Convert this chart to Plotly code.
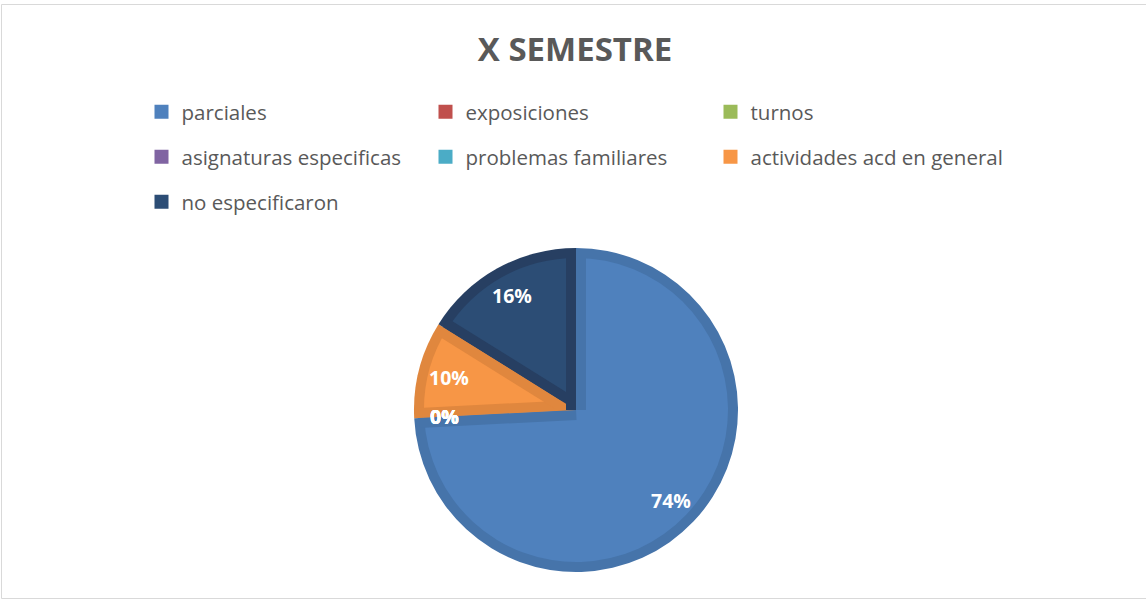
import math
import plotly.graph_objects as go

# data
categorias = ["parciales", "exposiciones", "turnos", "asignaturas especificas",
              "problemas familiares", "actividades acd en general", "no especificaron"]
valores = [23, 0, 0, 0, 0, 3, 5]
colores = ["#4F81BD", "#C0504D", "#9BBB59", "#8064A2", "#4BACC6", "#F79646", "#2C4D75"]
bordes = ["#4674AA", "#AD4845", "#8BA850", "#735A92", "#439BB2", "#E0873E", "#273F62"]
titulo = "X SEMESTRE"

W, H = 1146, 600
cx, cy, r, d = 576, 410, 162, 10
fuente = "Open Sans"
gris = "#595959"


def dominio(x, y, radio):
    return dict(x=[(x - radio) / W, (x + radio) / W],
                y=[(H - y - radio) / H, (H - y + radio) / H])


def px(x, y):
    return x / W, 1 - y / H


fig = go.Figure()
# outer ring of each slice (darker shade)
fig.add_trace(go.Pie(labels=categorias, values=valores, sort=False, direction="clockwise",
                     rotation=0, domain=dominio(cx, cy, r), textinfo="none", hoverinfo="skip",
                     marker=dict(colors=bordes, line=dict(width=0)), showlegend=False))
# main slices
fig.add_trace(go.Pie(labels=categorias, values=valores, sort=False, direction="clockwise",
                     rotation=0, domain=dominio(cx, cy, r - d), textinfo="none",
                     marker=dict(colors=colores, line=dict(width=0)), showlegend=False))

# legend: one small legend per entry, laid out in a 3-column grid
col_x = [141.5, 425.5, 710.5]
fila_y = [112, 157, 202]
leyendas = {}
for i, cat in enumerate(categorias):
    nombre = "legend" if i == 0 else "legend%d" % (i + 1)
    fig.add_trace(go.Scatter(x=[None], y=[None], mode="markers", name=cat, hoverinfo="skip",
                             marker=dict(symbol="square", size=14, color=colores[i], line=dict(width=0)),
                             legend=nombre, showlegend=True))
    leyendas[nombre] = dict(orientation="h", xanchor="left", yanchor="middle",
                            x=col_x[i % 3] / W, y=1 - fila_y[i // 3] / H,
                            bgcolor="rgba(0,0,0,0)", font=dict(family=fuente, size=20.5, color=gris))

# slice angles
total = sum(valores)
angulos = []
acum = 0
for v in valores:
    angulos.append((2 * math.pi * acum / total, 2 * math.pi * (acum + v) / total))
    acum += v

# bevel bands along slice edges (small slices first)
for k in sorted(range(len(valores)), key=lambda i: valores[i]):
    if valores[k] == 0:
        continue
    a0, a1 = angulos[k]
    for a, s in ((a0, 1), (a1, -1)):
        ox, oy = s * d / 2 * math.cos(a), s * d / 2 * math.sin(a)
        L = r - d / 2
        x0, y0 = px(cx + ox, cy + oy)
        x1, y1 = px(cx + ox + L * math.sin(a), cy + oy - L * math.cos(a))
        fig.add_shape(type="line", xref="paper", yref="paper", x0=x0, y0=y0, x1=x1, y1=y1,
                      line=dict(color=bordes[k], width=d), layer="above")

# percentage labels
for k, v in enumerate(valores):
    am = sum(angulos[k]) / 2
    rr = 0.81 * r
    tx, ty = px(cx + rr * math.sin(am), cy - rr * math.cos(am))
    fig.add_annotation(x=tx, y=ty, xref="paper", yref="paper", showarrow=False,
                       xanchor="center", yanchor="middle",
                       text="<b>%d%%</b>" % round(100 * v / total),
                       font=dict(family=fuente, size=19.5, color="white"))

# chart frame
fig.add_shape(type="rect", xref="paper", yref="paper", x0=1.5 / W, x1=1.01, y0=1.5 / H, y1=(H - 4.5) / H,
              line=dict(color="#D9D9D9", width=1), fillcolor="rgba(0,0,0,0)", layer="below")

fig.update_layout(
    width=W, height=H, margin=dict(l=0, r=0, t=0, b=0),
    paper_bgcolor="white", plot_bgcolor="white",
    xaxis=dict(visible=False), yaxis=dict(visible=False),
    title=dict(text="<b>" + titulo + "</b>", x=575 / W, xanchor="center", y=1 - 49 / H, yanchor="middle",
               font=dict(family=fuente, size=33, color=gris)),
    **leyendas,
)

fig.write_html("out.html", config={"displayModeBar": False},
               post_script="document.body.style.margin='0px';")
